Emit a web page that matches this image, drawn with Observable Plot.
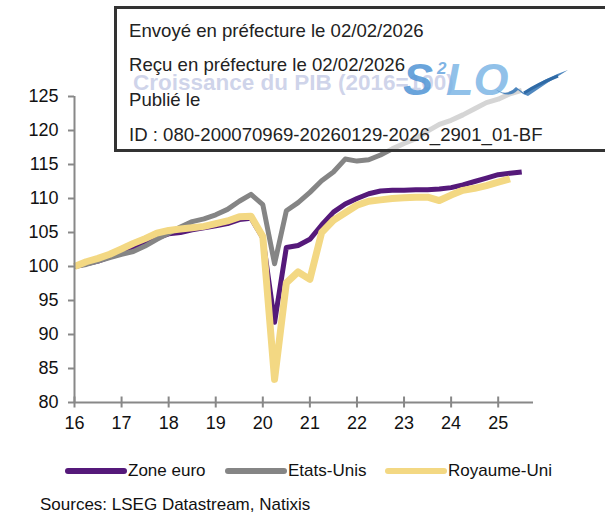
<!DOCTYPE html>
<html>
<head>
<meta charset="utf-8">
<script src="https://cdn.jsdelivr.net/npm/d3@7"></script>
<script src="https://cdn.jsdelivr.net/npm/@observablehq/plot@0.6"></script>
<style>
  html, body { margin: 0; padding: 0; background: #fff; }
  #wrap { position: relative; width: 605px; height: 513px; overflow: hidden; font-family: "Liberation Sans", Arial, sans-serif; }
  #chart { position: absolute; left: 0; top: 0; }
  .abs { position: absolute; white-space: nowrap; }
</style>
</head>
<body>
<div id="wrap">
  <div id="chart"></div>
</div>
<script>
// ---- Data (quarterly, 2016Q1 = 100) ----
const startYear = 2016;
const seriesNames = ["Zone euro", "Etats-Unis", "Royaume-Uni"];
const seriesColors = ["#55197a", "#858585", "#f3d883"];
const seriesWidths = [5, 5, 7];

const zoneEuro = [
  100.0, 100.4, 100.8, 101.4,
  102.0, 102.6, 103.3, 104.2,
  104.8, 105.0, 105.4, 105.7,
  106.0, 106.3, 106.9, 107.1,
  104.2, 91.8, 102.8, 103.1,
  104.0, 106.1, 108.0, 109.2,
  110.0, 110.7, 111.1, 111.2,
  111.2, 111.3, 111.3, 111.4,
  111.6, 112.0, 112.5, 113.0,
  113.5, 113.7, 113.9
];
const etatsUnis = [
  100.0, 100.3, 100.8, 101.3,
  101.8, 102.2, 103.0, 104.0,
  104.9, 105.8, 106.6, 107.0,
  107.6, 108.4, 109.6, 110.6,
  109.1, 100.4, 108.2, 109.4,
  110.9, 112.6, 113.9, 115.8,
  115.5, 115.7, 116.4, 117.3,
  118.1, 118.8, 119.9, 120.9,
  121.5, 122.3, 123.2, 124.1,
  124.6, 125.4, 125.9
];
const royaumeUni = [
  100.0, 100.7, 101.2, 101.8,
  102.6, 103.4, 104.1, 104.9,
  105.3, 105.5, 105.7, 105.9,
  106.3, 106.7, 107.3, 107.4,
  104.4, 83.4, 97.6, 99.2,
  98.1, 105.0, 106.8, 107.9,
  109.0, 109.6, 109.8, 110.0,
  110.1, 110.2, 110.2, 109.7,
  110.5, 111.2, 111.5, 111.9,
  112.4, 112.9
];
const xTicks = [2016, 2017, 2018, 2019, 2020, 2021, 2022, 2023, 2024, 2025];
const yTicks = [80, 85, 90, 95, 100, 105, 110, 115, 120, 125];
const xDomain = [2016, 2025.75];
const yDomain = [80, 125];

const titleText = "Croissance du PIB (2016=100)";
const sourceText = "Sources: LSEG Datastream, Natixis";
const stampLines = [
  "Envoyé en préfecture le 02/02/2026",
  "Reçu en préfecture le 02/02/2026",
  "Publié le",
  "ID : 080-200070969-20260129-2026_2901_01-BF"
];

// ---- Build table ----
const allSeries = [zoneEuro, etatsUnis, royaumeUni];
const rows = [];
allSeries.forEach((vals, s) => vals.forEach((v, i) => rows.push({series: seriesNames[s], t: startYear + i / 4, v})));

const axisColor = "#888";
const marks = [];
seriesNames.forEach((name, s) => {
  marks.push(Plot.line(rows.filter(d => d.series === name), {
    x: "t", y: "v", stroke: seriesColors[s], strokeWidth: seriesWidths[s],
    strokeLinejoin: "round", strokeLinecap: "butt"
  }));
});
marks.push(Plot.ruleX([xDomain[0]], {stroke: axisColor, strokeWidth: 2}));
marks.push(Plot.ruleY([yDomain[0]], {stroke: axisColor, strokeWidth: 2}));
marks.push(Plot.axisY({ticks: yTicks, tickSize: 6, tickPadding: 10, stroke: axisColor, strokeWidth: 2, fill: "#111", fontSize: 18, tickFormat: d => String(d)}));
marks.push(Plot.axisX({ticks: xTicks, tickSize: 11, dy: -5.5, stroke: axisColor, strokeWidth: 2, tickFormat: () => ""}));
marks.push(Plot.axisX({ticks: xTicks, tickSize: 0, tickPadding: 14, fill: "#111", fontSize: 18, tickFormat: d => String(d % 100)}));

const svg = Plot.plot({
  width: 605,
  height: 440,
  marginLeft: 74,
  marginRight: 72,
  marginTop: 96,
  marginBottom: 38,
  x: {domain: xDomain, label: null},
  y: {domain: yDomain, label: null},
  style: {fontFamily: "'Liberation Sans', Arial, sans-serif", background: "transparent", overflow: "visible"},
  marks
});
document.getElementById("chart").appendChild(svg);

const wrap = document.getElementById("wrap");
function addDiv(html, css) {
  const d = document.createElement("div");
  d.className = "abs";
  d.innerHTML = html;
  Object.assign(d.style, css);
  wrap.appendChild(d);
  return d;
}

// Title (sits under the stamp overlay)
addDiv(titleText, {left: "133px", top: "70px", fontSize: "22.5px", fontWeight: "bold", color: "#7482c0", lineHeight: "26px"});

// Stamp box overlay
addDiv("", {left: "114px", top: "6px", width: "520px", height: "140px", border: "3px solid #333", background: "rgba(255,255,255,0.66)"});
const lineTops = [20, 54, 89, 124];
stampLines.forEach((txt, i) => addDiv(txt, {left: "129px", top: lineTops[i] + "px", fontSize: "18.6px", color: "#222", lineHeight: "22px"}));

// Logo
addDiv("S", {left: "403px", top: "55px", fontSize: "45px", fontWeight: "bold", fontStyle: "italic", color: "rgba(85,152,214,0.88)", lineHeight: "50px"});
addDiv("2", {left: "437px", top: "60px", fontSize: "17px", fontWeight: "bold", fontStyle: "italic", color: "rgba(110,170,225,0.88)", lineHeight: "18px"});
addDiv("LO", {left: "446px", top: "55px", fontSize: "45px", fontWeight: "bold", fontStyle: "italic", color: "rgba(125,182,230,0.85)", lineHeight: "50px"});
addDiv('<svg width="80" height="36" viewBox="0 0 80 36"><path d="M0,20 Q12,30 22,19 L30,25 Q50,10 74,2 Q54,14 34,28 Q28,26 24,22 Q14,32 0,20 Z" fill="#3d7bb8" opacity="0.9"/><path d="M30,25 Q44,16 64,8" stroke="#2f6aa6" stroke-width="3" fill="none"/></svg>', {left: "494px", top: "68px", lineHeight: "0"});

// Legend
const legendX = [65, 225, 385];
seriesNames.forEach((name, s) => {
  addDiv(`<svg width="62" height="10"><line x1="3" y1="5" x2="59" y2="5" stroke="${seriesColors[s]}" stroke-width="6" stroke-linecap="round"/></svg>`, {left: legendX[s] + "px", top: "466px", lineHeight: "0"});
  addDiv(name, {left: (legendX[s] + 63) + "px", top: "460px", fontSize: "17px", color: "#111", lineHeight: "22px"});
});

// Source
addDiv(sourceText, {left: "40px", top: "495px", fontSize: "17px", color: "#111", lineHeight: "20px"});
</script>
</body>
</html>
